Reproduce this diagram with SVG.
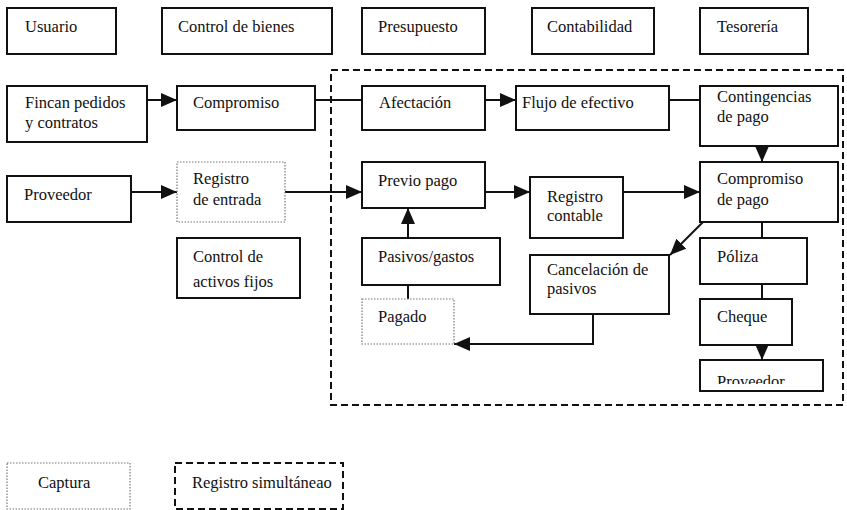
<svg xmlns="http://www.w3.org/2000/svg" width="847" height="510" viewBox="0 0 847 510">
  <style>
    text { font-family: "Liberation Serif", "Times New Roman", Times, "Noto Serif", "DejaVu Serif", FreeSerif, serif; font-size: 16.5px; fill: #111; }
    .box { fill: #fff; stroke: #111; stroke-width: 2; }
    .cap { fill: #fff; stroke: #777; stroke-width: 1.2; stroke-dasharray: 1.5 1.5; }
    .sim { fill: none; stroke: #111; stroke-width: 2; stroke-dasharray: 7 4; }
    .line { fill: none; stroke: #111; stroke-width: 2; }
    .arrow { fill: none; stroke: #111; stroke-width: 2; marker-end: url(#head); }
  </style>
  <defs>
    <marker id="head" markerUnits="userSpaceOnUse" markerWidth="16" markerHeight="14" refX="16" refY="7" orient="auto">
      <path d="M0,0 L16,7 L0,14 z" fill="#111"/>
    </marker>
    <clipPath id="clipProv">
      <rect x="700" y="360" width="123" height="24"/>
    </clipPath>
  </defs>

  <rect width="847" height="510" fill="#fff"/>

  <!-- simultaneous-registration area -->
  <rect class="sim" x="331" y="70" width="512" height="335"/>

  <!-- header row -->
  <g id="usuario"><rect class="box" x="7" y="8" width="109" height="46"/><text x="25" y="32">Usuario</text></g>
  <g id="control-bienes"><rect class="box" x="162" y="8" width="170" height="46"/><text x="178" y="32">Control de bienes</text></g>
  <g id="presupuesto"><rect class="box" x="362" y="8" width="123" height="46"/><text x="378" y="32">Presupuesto</text></g>
  <g id="contabilidad"><rect class="box" x="532" y="8" width="122" height="46"/><text x="547" y="32">Contabilidad</text></g>
  <g id="tesoreria"><rect class="box" x="700" y="8" width="108" height="46"/><text x="717" y="32">Tesorería</text></g>

  <!-- connectors -->
  <g id="connectors">
    <path class="arrow" d="M147,100 H177"/>
    <path class="line" d="M315,100 H362"/>
    <path class="arrow" d="M485,100 H516"/>
    <path class="line" d="M669,100 H700"/>
    <path class="arrow" d="M762,146 V162"/>
    <path class="arrow" d="M131,192 H177"/>
    <path class="arrow" d="M285,192 H362"/>
    <path class="arrow" d="M408,238 V208"/>
    <path class="arrow" d="M485,192 H530"/>
    <path class="arrow" d="M623,192 H700"/>
    <path class="arrow" d="M703,222 L670,255"/>
    <path class="line" d="M762,222 V238"/>
    <path class="line" d="M762,284 V299"/>
    <path class="arrow" d="M762,345 V360"/>
    <path class="line" d="M408,285 V299"/>
    <path class="arrow" d="M593,314 V344 H454"/>
  </g>

  <!-- row 2 -->
  <g id="fincan"><rect class="box" x="7" y="86" width="140" height="56"/><text x="25" y="108">Fincan pedidos</text><text x="25" y="128">y contratos</text></g>
  <g id="compromiso"><rect class="box" x="177" y="86" width="138" height="44"/><text x="193" y="108">Compromiso</text></g>
  <g id="afectacion"><rect class="box" x="362" y="86" width="123" height="44"/><text x="379" y="108">Afectación</text></g>
  <g id="flujo"><rect class="box" x="516" y="86" width="153" height="44"/><text x="522" y="108">Flujo de efectivo</text></g>
  <g id="contingencias"><rect class="box" x="700" y="86" width="138" height="60"/><text x="717" y="102">Contingencias</text><text x="717" y="122">de pago</text></g>

  <!-- row 3 -->
  <g id="proveedor"><rect class="box" x="7" y="176" width="124" height="46"/><text x="24" y="200">Proveedor</text></g>
  <g id="registro-entrada"><rect class="cap" x="177" y="162" width="108" height="60"/><text x="193" y="184">Registro</text><text x="193" y="205">de entrada</text></g>
  <g id="previo-pago"><rect class="box" x="362" y="162" width="123" height="46"/><text x="378" y="186">Previo pago</text></g>
  <g id="registro-contable"><rect class="box" x="530" y="177" width="93" height="61"/><text x="547" y="202">Registro</text><text x="547" y="221">contable</text></g>
  <g id="compromiso-pago"><rect class="box" x="700" y="162" width="138" height="60"/><text x="717" y="184">Compromiso</text><text x="717" y="205">de pago</text></g>

  <g id="control-activos"><rect class="box" x="177" y="238" width="123" height="60"/><text x="193" y="262">Control de</text><text x="193" y="287">activos fijos</text></g>
  <g id="pasivos"><rect class="box" x="362" y="238" width="138" height="47"/><text x="378" y="262">Pasivos/gastos</text></g>
  <g id="cancelacion"><rect class="box" x="530" y="255" width="139" height="59"/><text x="547" y="275">Cancelación de</text><text x="547" y="294">pasivos</text></g>
  <g id="poliza"><rect class="box" x="700" y="238" width="107" height="46"/><text x="717" y="262">Póliza</text></g>

  <g id="pagado"><rect class="cap" x="362" y="299" width="92" height="45"/><text x="378" y="322">Pagado</text></g>
  <g id="cheque"><rect class="box" x="700" y="299" width="92" height="46"/><text x="717" y="322">Cheque</text></g>
  <g id="proveedor-final"><rect class="box" x="700" y="360" width="123" height="31"/><text x="717" y="387" clip-path="url(#clipProv)">Proveedor</text></g>

  <!-- legend -->
  <g id="legend-captura"><rect class="cap" x="7" y="463" width="123" height="46"/><text x="38" y="488">Captura</text></g>
  <g id="legend-simultaneo"><rect class="sim" x="175" y="463" width="168" height="46"/><text x="192" y="488">Registro simultáneao</text></g>
</svg>
